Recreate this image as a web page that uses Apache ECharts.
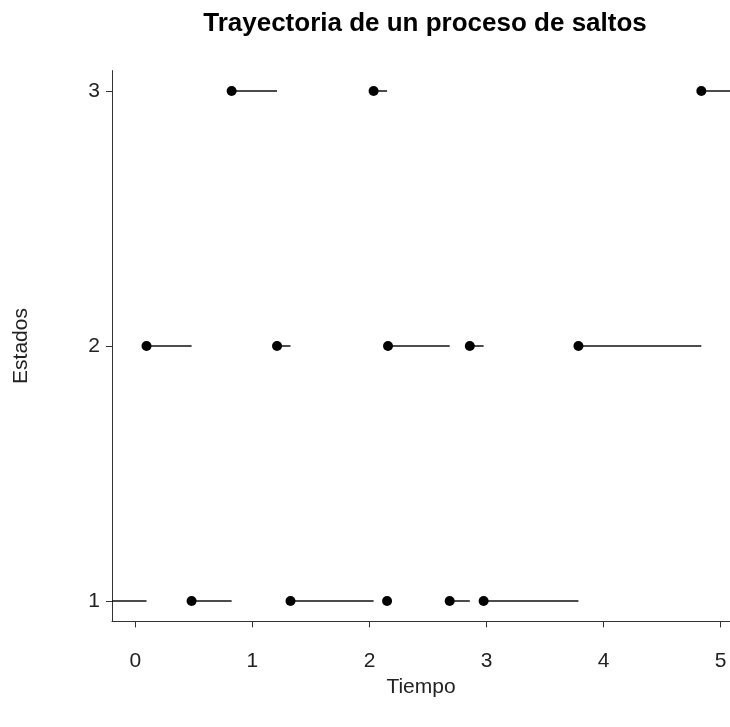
<!DOCTYPE html>
<html>
<head>
<meta charset="utf-8">
<script src="https://cdn.jsdelivr.net/npm/echarts@6/dist/echarts.min.js"></script>
<style>
  html, body { margin: 0; padding: 0; background: #fff; }
  #chart { width: 730px; height: 727px; }
</style>
</head>
<body>
<div id="chart"></div>
<script>
// ---- data ----
const titleText = 'Trayectoria de un proceso de saltos';
const xAxisTitle = 'Tiempo';
const yAxisTitle = 'Estados';
const xTickValues = [0, 1, 2, 3, 4, 5];
const yTickValues = [1, 2, 3];
const startTime = -0.2;   // trajectory visible from the left edge
const endTime = 5.08;     // trajectory continues to the right edge
const jumpTimes = [0.095, 0.48, 0.822, 1.21, 1.325, 2.035, 2.15, 2.158, 2.685, 2.857, 2.975, 3.785, 4.835];
const states = [1, 2, 1, 3, 2, 1, 3, 1, 2, 1, 2, 1, 2, 3]; // states[0] = initial state

// ---- derived series ----
const segments = states.map((s, k) => [
  k === 0 ? startTime : jumpTimes[k - 1],
  k < jumpTimes.length ? jumpTimes[k] : endTime,
  s
]);
const points = jumpTimes.map((t, i) => [t, states[i + 1]]);

const FONT = "'Liberation Sans', Arial, sans-serif";
const chart = echarts.init(document.getElementById('chart'), null, { renderer: 'canvas' });

chart.setOption({
  animation: false,
  backgroundColor: '#ffffff',
  grid: { left: 112, top: 70.6, right: 0, height: 550.8, containLabel: false },
  xAxis: {
    type: 'value',
    min: startTime,
    max: endTime,
    name: xAxisTitle,
    nameLocation: 'middle',
    nameGap: 55,
    nameTextStyle: { fontFamily: FONT, fontSize: 21, color: '#222' },
    axisLine: { show: true, onZero: false, lineStyle: { color: '#333', width: 1 } },
    axisTick: { show: true, length: 6, customValues: xTickValues, lineStyle: { color: '#333' } },
    axisLabel: { customValues: xTickValues, margin: 29, fontFamily: FONT, fontSize: 21, color: '#222' },
    splitLine: { show: false }
  },
  yAxis: {
    type: 'value',
    min: 0.92,
    max: 3.08,
    name: yAxisTitle,
    nameLocation: 'middle',
    nameGap: 80,
    nameRotate: 90,
    nameTextStyle: { fontFamily: FONT, fontSize: 21, color: '#222' },
    axisLine: { show: true, onZero: false, lineStyle: { color: '#333', width: 1 } },
    axisTick: { show: true, length: 6, customValues: yTickValues, lineStyle: { color: '#333' } },
    axisLabel: { customValues: yTickValues, margin: 12, fontFamily: FONT, fontSize: 21, color: '#222' },
    splitLine: { show: false }
  },
  graphic: [{
    type: 'text',
    x: 425,
    y: 24,
    style: {
      text: titleText,
      font: "bold 26px 'Liberation Sans', Arial, sans-serif",
      fill: '#000',
      textAlign: 'center',
      textVerticalAlign: 'middle'
    }
  }],
  series: [
    {
      type: 'custom',
      data: segments,
      clip: true,
      renderItem: function (params, api) {
        const p1 = api.coord([api.value(0), api.value(2)]);
        const p2 = api.coord([api.value(1), api.value(2)]);
        return {
          type: 'line',
          shape: { x1: p1[0], y1: p1[1], x2: p2[0], y2: p2[1] },
          style: { stroke: '#111', lineWidth: 1.4 }
        };
      },
      encode: { x: [0, 1], y: 2 },
      z: 2
    },
    {
      type: 'scatter',
      data: points,
      symbol: 'circle',
      symbolSize: 10,
      itemStyle: { color: '#000', opacity: 1 },
      z: 3
    }
  ]
});
</script>
</body>
</html>
